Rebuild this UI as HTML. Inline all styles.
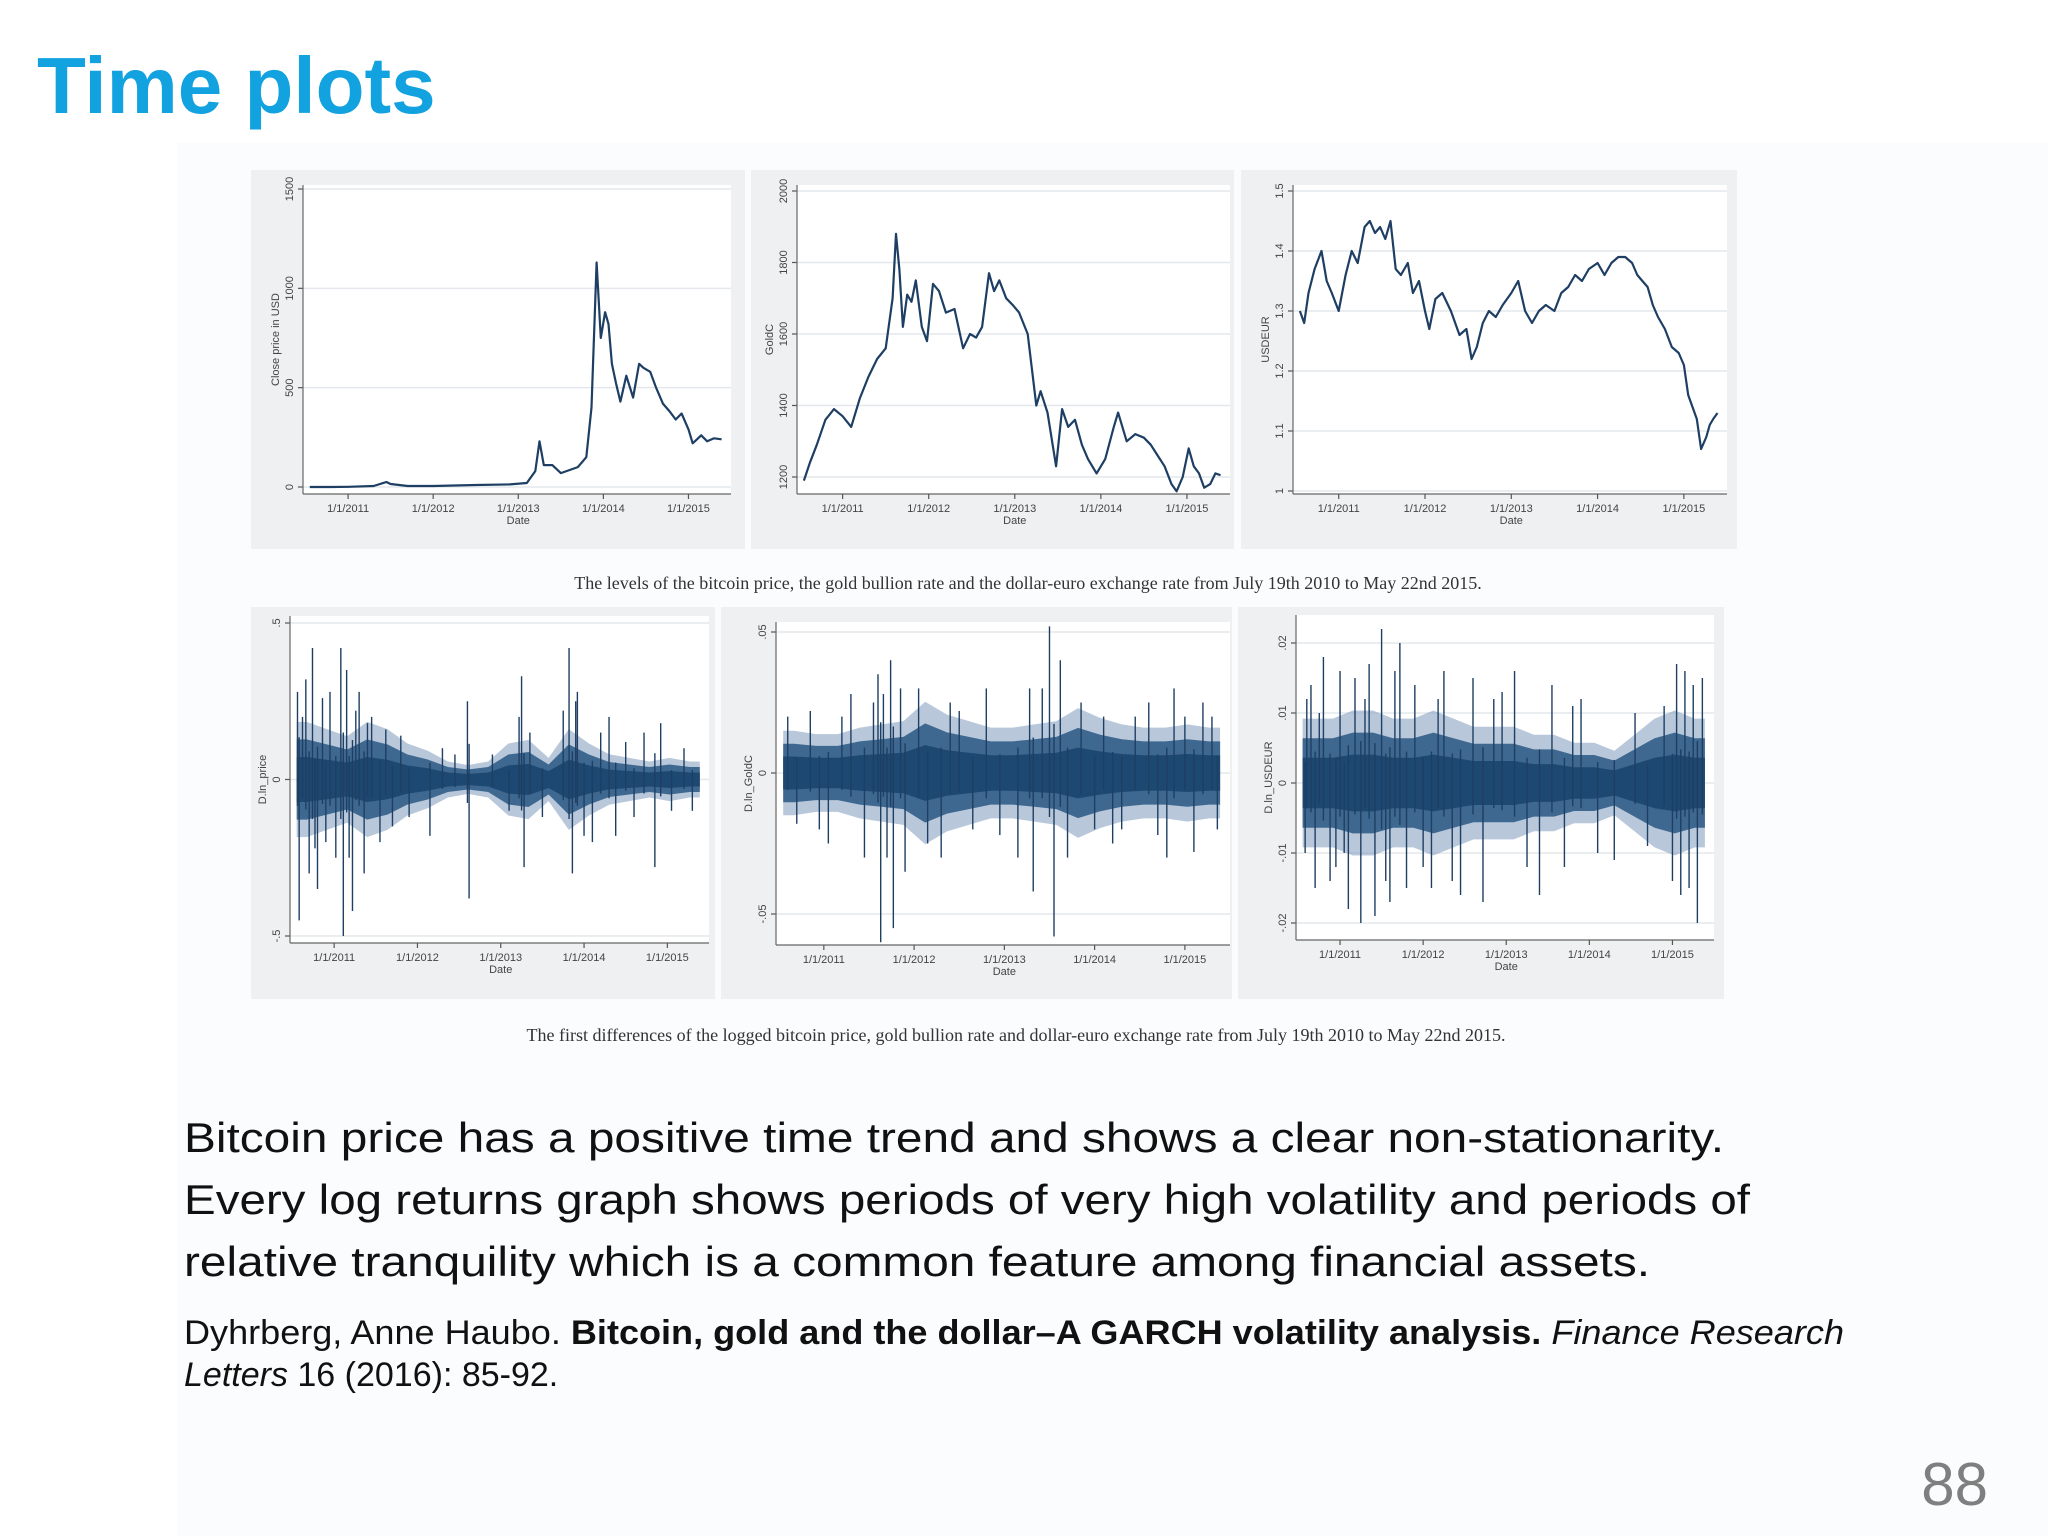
<!DOCTYPE html>
<html><head><meta charset="utf-8"><title>Time plots</title>
<style>
html,body{margin:0;padding:0;background:#fff;}
svg{display:block;}
</style></head>
<body>
<svg id="slide" width="2048" height="1536" viewBox="0 0 2048 1536" xmlns="http://www.w3.org/2000/svg">
  <rect x="0" y="0" width="2048" height="1536" fill="#ffffff"/>
  <rect x="177" y="143" width="1871" height="1393" fill="#fbfcfd"/>
  <text x="37" y="113" font-family="Liberation Sans, sans-serif" font-weight="bold" font-size="80" fill="#12a2e0">Time plots</text>
  <g id="charts"></g>
  <text x="1028" y="589" text-anchor="middle" font-family="Liberation Serif, serif" font-size="18" fill="#333">The levels of the bitcoin price, the gold bullion rate and the dollar-euro exchange rate from July 19th 2010 to May 22nd 2015.</text>
  <text x="1016" y="1041" text-anchor="middle" font-family="Liberation Serif, serif" font-size="18" fill="#333">The first differences of the logged bitcoin price, gold bullion rate and dollar-euro exchange rate from July 19th 2010 to May 22nd 2015.</text>
  <g font-family="Liberation Sans, sans-serif" font-size="42" fill="#111">
    <text x="184" y="1152" textLength="1540" lengthAdjust="spacingAndGlyphs">Bitcoin price has a positive time trend and shows a clear non-stationarity.</text>
    <text x="184" y="1214" textLength="1566" lengthAdjust="spacingAndGlyphs">Every log returns graph shows periods of very high volatility and periods of</text>
    <text x="184" y="1276" textLength="1466" lengthAdjust="spacingAndGlyphs">relative tranquility which is a common feature among financial assets.</text>
  </g>
  <g font-family="Liberation Sans, sans-serif" font-size="34" fill="#111">
    <text x="184" y="1344" textLength="1660" lengthAdjust="spacingAndGlyphs">Dyhrberg, Anne Haubo. <tspan font-weight="bold">Bitcoin, gold and the dollar–A GARCH volatility analysis.</tspan> <tspan font-style="italic">Finance Research</tspan></text>
    <text x="184" y="1386"><tspan font-style="italic">Letters</tspan> 16 (2016): 85-92.</text>
  </g>
  <text x="1988" y="1505" text-anchor="end" font-family="Liberation Sans, sans-serif" font-size="60" fill="#7f7f7f">88</text>
</svg>
<script>
// ---- data ----
const xTickYears = [2011, 2012, 2013, 2014, 2015];
const xTickLabels = ["1/1/2011", "1/1/2012", "1/1/2013", "1/1/2014", "1/1/2015"];

const btcDates = [2010.55,2010.8,2011.0,2011.3,2011.45,2011.5,2011.7,2012.0,2012.5,2012.9,2013.1,2013.2,2013.25,2013.3,2013.4,2013.5,2013.7,2013.8,2013.86,2013.92,2013.97,2014.02,2014.06,2014.1,2014.15,2014.2,2014.27,2014.35,2014.42,2014.47,2014.55,2014.62,2014.7,2014.78,2014.85,2014.92,2015.0,2015.05,2015.1,2015.15,2015.22,2015.3,2015.39];
const btcPrice = [0,0,1,5,25,15,5,5,10,13,20,80,230,110,110,70,100,150,400,1130,750,880,820,620,520,430,560,450,620,600,580,500,420,380,340,370,290,220,240,260,230,245,240];

const goldDates = [2010.55,2010.62,2010.7,2010.8,2010.9,2011.0,2011.1,2011.2,2011.3,2011.4,2011.5,2011.58,2011.62,2011.66,2011.7,2011.75,2011.8,2011.85,2011.92,2011.98,2012.05,2012.12,2012.2,2012.3,2012.4,2012.48,2012.55,2012.62,2012.7,2012.76,2012.82,2012.9,2012.98,2013.05,2013.15,2013.25,2013.3,2013.38,2013.48,2013.55,2013.62,2013.7,2013.78,2013.85,2013.95,2014.05,2014.15,2014.2,2014.3,2014.4,2014.5,2014.58,2014.66,2014.74,2014.82,2014.88,2014.95,2015.02,2015.08,2015.14,2015.2,2015.27,2015.33,2015.39];
const goldPrice = [1190,1240,1290,1360,1390,1370,1340,1420,1480,1530,1560,1700,1880,1780,1620,1710,1690,1750,1620,1580,1740,1720,1660,1670,1560,1600,1590,1620,1770,1720,1750,1700,1680,1660,1600,1400,1440,1380,1230,1390,1340,1360,1290,1250,1210,1250,1340,1380,1300,1320,1310,1290,1260,1230,1180,1160,1200,1280,1230,1210,1170,1180,1210,1205];

const eurDates = [2010.55,2010.6,2010.65,2010.72,2010.8,2010.86,2010.92,2011.0,2011.08,2011.15,2011.22,2011.3,2011.36,2011.42,2011.48,2011.54,2011.6,2011.66,2011.72,2011.8,2011.86,2011.93,2012.0,2012.05,2012.12,2012.2,2012.3,2012.4,2012.48,2012.54,2012.6,2012.67,2012.74,2012.82,2012.9,2013.0,2013.08,2013.16,2013.24,2013.32,2013.4,2013.5,2013.58,2013.66,2013.74,2013.82,2013.9,2014.0,2014.08,2014.16,2014.24,2014.32,2014.4,2014.46,2014.52,2014.58,2014.64,2014.7,2014.78,2014.86,2014.94,2015.0,2015.05,2015.1,2015.15,2015.2,2015.26,2015.3,2015.34,2015.39];
const eurRate = [1.30,1.28,1.33,1.37,1.40,1.35,1.33,1.30,1.36,1.40,1.38,1.44,1.45,1.43,1.44,1.42,1.45,1.37,1.36,1.38,1.33,1.35,1.30,1.27,1.32,1.33,1.30,1.26,1.27,1.22,1.24,1.28,1.30,1.29,1.31,1.33,1.35,1.30,1.28,1.30,1.31,1.30,1.33,1.34,1.36,1.35,1.37,1.38,1.36,1.38,1.39,1.39,1.38,1.36,1.35,1.34,1.31,1.29,1.27,1.24,1.23,1.21,1.16,1.14,1.12,1.07,1.09,1.11,1.12,1.13];

// returns: volatility band per segment (20 equal segments) and spikes (date, value)
const btcBand = [0.16,0.14,0.12,0.16,0.14,0.1,0.08,0.05,0.04,0.05,0.1,0.11,0.06,0.14,0.1,0.07,0.06,0.05,0.06,0.05];
const btcSpikeDates = [2010.56,2010.58,2010.62,2010.66,2010.7,2010.74,2010.77,2010.8,2010.86,2010.9,2010.95,2011.02,2011.08,2011.11,2011.15,2011.18,2011.22,2011.26,2011.3,2011.36,2011.4,2011.45,2011.55,2011.62,2011.7,2011.8,2011.9,2012.15,2012.3,2012.45,2012.6,2012.62,2012.9,2013.1,2013.22,2013.25,2013.28,2013.35,2013.5,2013.75,2013.82,2013.86,2013.9,2013.92,2014.0,2014.1,2014.2,2014.3,2014.38,2014.5,2014.6,2014.72,2014.85,2014.92,2015.05,2015.2,2015.3];
const btcSpikeVals = [0.28,-0.45,0.2,0.32,-0.3,0.42,-0.22,-0.35,0.26,-0.2,0.28,-0.25,0.42,-0.5,0.35,-0.25,-0.42,0.22,0.28,-0.3,0.18,0.2,-0.2,0.16,-0.15,0.14,-0.12,-0.18,0.1,0.08,0.25,-0.38,0.08,-0.1,0.2,0.33,-0.28,0.15,-0.12,0.22,0.42,-0.3,0.25,0.28,-0.18,-0.2,0.15,0.2,-0.18,0.12,-0.12,0.15,-0.28,0.18,-0.1,0.1,-0.1];

const goldBand = [0.013,0.012,0.012,0.014,0.015,0.016,0.022,0.018,0.016,0.014,0.014,0.015,0.016,0.02,0.017,0.015,0.014,0.014,0.015,0.014];
const goldSpikeDates = [2010.6,2010.7,2010.85,2010.95,2011.05,2011.2,2011.3,2011.45,2011.55,2011.6,2011.63,2011.66,2011.7,2011.74,2011.77,2011.85,2011.9,2012.05,2012.15,2012.3,2012.4,2012.5,2012.65,2012.8,2012.95,2013.15,2013.28,2013.32,2013.42,2013.5,2013.55,2013.62,2013.7,2013.85,2014.0,2014.1,2014.2,2014.3,2014.45,2014.6,2014.7,2014.8,2014.88,2015.0,2015.1,2015.2,2015.3,2015.36];
const goldSpikeVals = [0.02,-0.018,0.022,-0.02,-0.025,0.02,0.028,-0.03,0.025,0.035,-0.06,0.028,-0.03,0.04,-0.055,0.03,-0.035,0.03,-0.025,-0.03,0.025,0.022,-0.02,0.03,-0.022,-0.03,0.03,-0.042,0.03,0.052,-0.058,0.04,-0.03,0.025,-0.02,0.02,-0.025,-0.02,0.02,0.025,-0.022,-0.03,0.03,0.02,-0.028,0.025,0.02,-0.02];

const eurBand = [0.008,0.008,0.009,0.009,0.008,0.008,0.009,0.008,0.007,0.007,0.007,0.006,0.006,0.005,0.005,0.004,0.006,0.008,0.009,0.008];
const eurSpikeDates = [2010.58,2010.6,2010.65,2010.7,2010.75,2010.8,2010.88,2010.95,2011.0,2011.05,2011.1,2011.18,2011.25,2011.3,2011.35,2011.42,2011.5,2011.55,2011.6,2011.66,2011.72,2011.8,2011.9,2012.0,2012.1,2012.18,2012.25,2012.35,2012.45,2012.6,2012.72,2012.85,2012.95,2013.1,2013.25,2013.4,2013.55,2013.7,2013.8,2013.9,2014.1,2014.3,2014.55,2014.7,2014.9,2015.0,2015.05,2015.1,2015.15,2015.2,2015.25,2015.3,2015.36];
const eurSpikeVals = [-0.01,0.012,0.014,-0.015,0.01,0.018,-0.014,-0.012,0.016,-0.01,-0.018,0.015,-0.02,0.012,0.017,-0.019,0.022,-0.014,-0.017,0.016,0.02,-0.015,0.014,-0.012,-0.015,0.012,0.016,-0.014,-0.016,0.015,-0.017,0.012,0.013,0.016,-0.012,-0.016,0.014,-0.012,0.011,0.012,-0.01,-0.011,0.01,-0.009,0.011,-0.014,0.017,-0.016,0.016,-0.015,0.014,-0.02,0.015];

const START = 2010.55, END = 2015.39;
const X0 = 2010.47, X1 = 2015.5;

const NS = "http://www.w3.org/2000/svg";
const root = document.getElementById('charts');
function mk(tag, attrs, parent) {
  const e = document.createElementNS(NS, tag);
  for (const k in attrs) e.setAttribute(k, attrs[k]);
  (parent || root).appendChild(e);
  return e;
}
function xScale(p) { return d => p.x + (d - X0) / (X1 - X0) * p.w; }
function yScale(p) { return v => p.py0 + (v - p.v0) / (p.v1 - p.v0) * (p.py1 - p.py0); }

function frame(p) {
  const g = mk('g', {});
  
  
  const bg = mk('rect', {x: p.bx, y: p.by, width: p.bw, height: p.bh, fill: '#eef0f2'}, g);
  
  
  const pa = mk('rect', {x: p.x, y: p.y, width: p.w, height: p.h, fill: '#ffffff'}, g);
  
  
  const X = xScale(p), Y = yScale(p);
  p.yTicks.forEach((t, i) => {
    const yy = Y(t);
    const gl = mk('line', {x1: p.x, x2: p.x + p.w, y1: yy, y2: yy, stroke: '#e4e8ec', 'stroke-width': 1.5}, g);
    
    
    mk('line', {x1: p.x - 5, x2: p.x, y1: yy, y2: yy, stroke: '#555', 'stroke-width': 1.2}, g);
    const tl = mk('text', {x: p.x - 10, y: yy, transform: `rotate(-90 ${p.x - 10} ${yy})`, 'text-anchor': 'middle', 'font-family': 'Liberation Sans, sans-serif', 'font-size': 11, fill: '#444'}, g);
    tl.textContent = p.yTickLabels[i];
    
    
  });
  const yt = mk('text', {x: p.x - 24, y: p.y + p.h / 2, transform: `rotate(-90 ${p.x - 24} ${p.y + p.h / 2})`, 'text-anchor': 'middle', 'font-family': 'Liberation Sans, sans-serif', 'font-size': 11, fill: '#444'}, g);
  yt.textContent = p.yTitle;
  
  
  mk('line', {x1: p.x, x2: p.x, y1: p.y, y2: p.y + p.h, stroke: '#666', 'stroke-width': 1.2}, g);
  mk('line', {x1: p.x, x2: p.x + p.w, y1: p.y + p.h, y2: p.y + p.h, stroke: '#666', 'stroke-width': 1.2}, g);
  xTickYears.forEach((d, i) => {
    const xx = X(d);
    mk('line', {x1: xx, x2: xx, y1: p.y + p.h, y2: p.y + p.h + 5, stroke: '#555', 'stroke-width': 1.2}, g);
    const tl = mk('text', {x: xx, y: p.y + p.h + 18, 'text-anchor': 'middle', 'font-family': 'Liberation Sans, sans-serif', 'font-size': 11, fill: '#444'}, g);
    tl.textContent = xTickLabels[i];
    
    
  });
  const xt = mk('text', {x: X(2013), y: p.y + p.h + 30, 'text-anchor': 'middle', 'font-family': 'Liberation Sans, sans-serif', 'font-size': 11, fill: '#444'}, g);
  xt.textContent = 'Date';
  
  
  return {g, X, Y};
}

function levelPanel(p, dates, vals) {
  const {g, X, Y} = frame(p);
  const pts = dates.map((d, i) => X(d).toFixed(1) + ',' + Y(vals[i]).toFixed(1)).join(' ');
  const l = mk('polyline', {points: pts, fill: 'none', stroke: '#1e3f63', 'stroke-width': 2.2, 'stroke-linejoin': 'round'}, g);
  
  
}

function bandPolygon(band, X, Y, k) {
  const n = band.length, seg = (END - START) / n;
  const top = [], bot = [];
  const ds = [START], bs = [band[0]];
  band.forEach((b, i) => { ds.push(START + (i + 0.5) * seg); bs.push(b); });
  ds.push(END); bs.push(band[n - 1]);
  ds.forEach((d, i) => {
    top.push(X(d).toFixed(1) + ',' + Y(bs[i] * k).toFixed(1));
    bot.unshift(X(d).toFixed(1) + ',' + Y(-bs[i] * k).toFixed(1));
  });
  return top.concat(bot).join(' ');
}

function returnPanel(p, band, sDates, sVals) {
  const {g, X, Y} = frame(p);
  const halo = mk('polygon', {points: bandPolygon(band, X, Y, 1.15), fill: '#7d9bbb', opacity: 0.55}, g);
  
  
  const mid = mk('polygon', {points: bandPolygon(band, X, Y, 0.8), fill: '#3f6890'}, g);
  
  
  const core = mk('polygon', {points: bandPolygon(band, X, Y, 0.45), fill: '#1d4871'}, g);
  
  
  sDates.forEach((d, i) => {
    const s = mk('line', {x1: X(d), x2: X(d), y1: Y(-sVals[i] * 0.3), y2: Y(sVals[i]), stroke: '#1e3f63', 'stroke-width': 1.4}, g);
    
    
  });
}

levelPanel({name: 'bitcoin-price-chart', bx: 251, by: 170, bw: 494, bh: 379, x: 303, y: 185, w: 428, h: 309,
  v0: 0, py0: 487, v1: 1500, py1: 189, yTicks: [0, 500, 1000, 1500], yTickLabels: ['0', '500', '1000', '1500'], yTitle: 'Close price in USD'}, btcDates, btcPrice);
levelPanel({name: 'gold-price-chart', bx: 751, by: 170, bw: 483, bh: 379, x: 797, y: 185, w: 433, h: 309,
  v0: 1200, py0: 477, v1: 2000, py1: 191, yTicks: [1200, 1400, 1600, 1800, 2000], yTickLabels: ['1200', '1400', '1600', '1800', '2000'], yTitle: 'GoldC'}, goldDates, goldPrice);
levelPanel({name: 'usdeur-chart', bx: 1241, by: 170, bw: 496, bh: 379, x: 1293, y: 185, w: 434, h: 309,
  v0: 1.0, py0: 491, v1: 1.5, py1: 191, yTicks: [1.0, 1.1, 1.2, 1.3, 1.4, 1.5], yTickLabels: ['1', '1.1', '1.2', '1.3', '1.4', '1.5'], yTitle: 'USDEUR'}, eurDates, eurRate);

returnPanel({name: 'bitcoin-returns-chart', bx: 251, by: 607, bw: 464, bh: 392, x: 290, y: 616, w: 419, h: 327,
  v0: -0.5, py0: 936, v1: 0.5, py1: 623, yTicks: [-0.5, 0, 0.5], yTickLabels: ['-.5', '0', '.5'], yTitle: 'D.ln_price'}, btcBand, btcSpikeDates, btcSpikeVals);
returnPanel({name: 'gold-returns-chart', bx: 721, by: 607, bw: 511, bh: 392, x: 776, y: 622, w: 454, h: 323,
  v0: -0.05, py0: 914, v1: 0.05, py1: 632, yTicks: [-0.05, 0, 0.05], yTickLabels: ['-.05', '0', '.05'], yTitle: 'D.ln_GoldC'}, goldBand, goldSpikeDates, goldSpikeVals);
returnPanel({name: 'usdeur-returns-chart', bx: 1238, by: 607, bw: 486, bh: 392, x: 1296, y: 615, w: 418, h: 325,
  v0: -0.02, py0: 923, v1: 0.02, py1: 643, yTicks: [-0.02, -0.01, 0, 0.01, 0.02], yTickLabels: ['-.02', '-.01', '0', '.01', '.02'], yTitle: 'D.ln_USDEUR'}, eurBand, eurSpikeDates, eurSpikeVals);
</script>
</body></html>
